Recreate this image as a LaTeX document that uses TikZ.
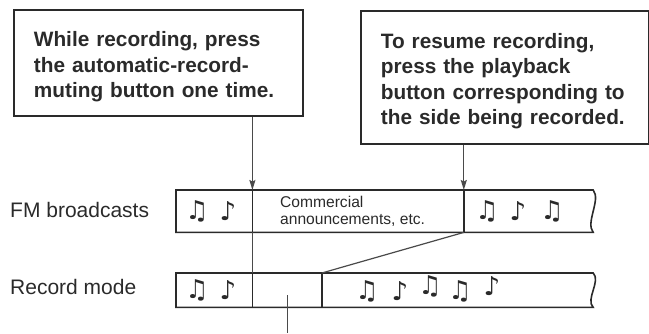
\documentclass[tikz,border=0pt]{standalone}
\usepackage{fontspec}
\setmainfont{Liberation Sans}
\newfontfamily\notefont{DejaVu Sans}
\usetikzlibrary{positioning,arrows.meta}
\definecolor{ink}{HTML}{2A2A2A}
\definecolor{wire}{HTML}{4A4A4A}
\tikzset{
  >={Stealth[length=10pt,width=6pt,inset=1.5pt]},
  callout/.style={
    rectangle,
    draw=ink, line width=1.8pt,
    text=ink,
    font=\fontsize{20.8}{25.5}\selectfont\bfseries,
    align=left,
    anchor=north west,
    inner xsep=20pt, inner ysep=4pt,
    execute at begin node={\rule{0pt}{23pt}}},
  seg/.style={rectangle, inner sep=0pt, anchor=north west},
  tag/.style={text=ink, font=\fontsize{21}{24}\selectfont, anchor=west, inner sep=0pt},
  small/.style={text=ink, font=\fontsize{15.6}{17}\selectfont, align=left, anchor=north west, inner sep=0pt},
  note/.style={text=ink, font=\notefont\fontsize{26}{26}\selectfont, inner sep=0pt},
  tape/.style={draw=ink, line width=1.6pt},
  wire/.style={draw=wire, line width=1.2pt},
}
\begin{document}
\begin{tikzpicture}[x=1pt, y=-1pt]
    \useasboundingbox (0,0) rectangle (649,333);

    % instructions
    \node[callout, text width=249pt, minimum height=106pt] (box1) at (13,9) {While recording, press\\the automatic-record-\\muting button one time.};
    \node[callout, text width=248pt, minimum height=133pt] (box2) at (360,10) {To resume recording,\\press the playback\\button corresponding to\\the side being recorded.};

    % FM broadcasts tape
    \node[tag] (lblFM) at (10,210) {FM broadcasts};
    \node[seg, minimum width=76pt, minimum height=42pt] (fm1) at (176,190) {};
    \node[seg, minimum width=211pt, minimum height=42pt, right=0pt of fm1] (fm2) {};
    \node[seg, minimum width=129pt, minimum height=42pt, right=0pt of fm2] (fm3) {};
    \node[small] (ad) at (280,196) {Commercial\\announcements, etc.};

    % record mode tape
    \node[tag] (lblRec) at (10,287) {Record mode};
    \node[seg, minimum width=76pt, minimum height=34pt] (rec1) at (176,273) {};
    \node[seg, minimum width=69pt, minimum height=34pt, right=0pt of rec1] (rec2) {};
    \node[seg, minimum width=271pt, minimum height=34pt, right=0pt of rec2] (rec3) {};

    \path[tape] (fm1.north west) -- (fm3.north east) .. controls +(8,10) and +(-8,-10) .. (fm3.south east) -- (fm1.south west) -- cycle;
    \path[tape] (fm2.north west) -- (fm2.south west);
    \path[tape] (fm3.north west) -- (fm3.south west);
    \path[tape] (rec1.north west) -- (rec3.north east) .. controls +(8,8) and +(-8,-8) .. (rec3.south east) -- (rec1.south west) -- cycle;
    \path[tape] (rec2.north west) -- (rec2.south west);
    \path[tape] (rec3.north west) -- (rec3.south west);

    % notes
    \foreach \x/\g in {197/♫, 228/♪, 487/♫, 518/♪, 552/♫}
        \node[note] (fmN\x) at (\x,211) {\g};
    \foreach \x/\y/\g in {197/290/♫, 228/290/♪, 367/291/♫, 400/291/♪, 430/286/♫, 460/291/♫, 492/286/♪}
        \node[note] (recN\x) at (\x,\y) {\g};

    % connectors
    \coordinate (ptr) at (286,333);
    \path[wire, ->] (box1.south -| fm2.north west) -- (fm2.north west);
    \path[wire] (fm2.south west) -- (rec2.north west);
    \path[wire, ->] (box2.south -| fm3.north west) -- (fm3.north west);
    \path[wire] (fm3.south west) -- (rec3.north west);
    \path[wire] ([yshift=-5pt]rec2.center) -- (rec2.center |- ptr);
\end{tikzpicture}
\end{document}
